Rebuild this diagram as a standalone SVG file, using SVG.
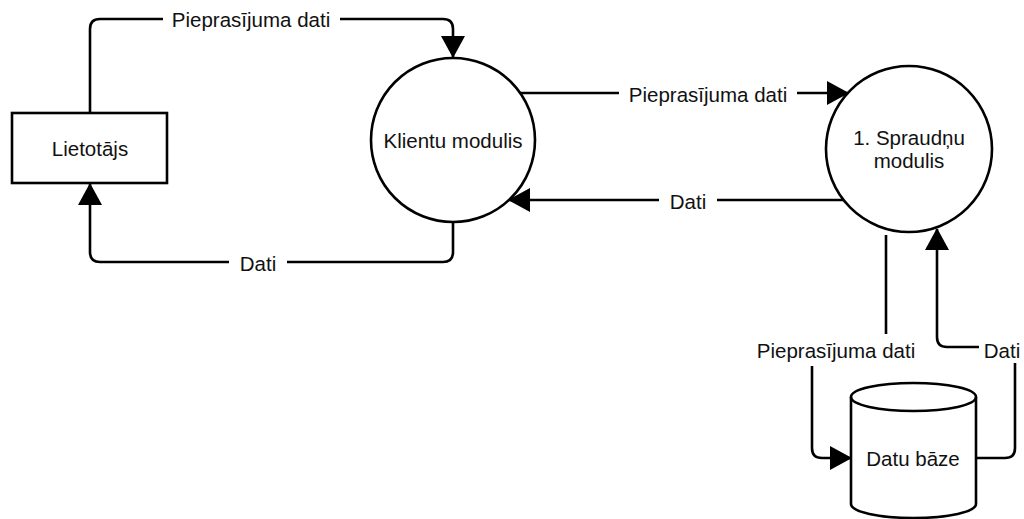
<svg xmlns="http://www.w3.org/2000/svg" width="1024" height="519" viewBox="0 0 1024 519">
<style>
.shape{fill:#fff;stroke:#000;stroke-width:2.6}
.edge{fill:none;stroke:#000;stroke-width:2.6}
.lbl{font-family:"Liberation Sans",Arial,sans-serif;font-size:20.5px;fill:#111;text-anchor:middle;dominant-baseline:central}
.bg{fill:#fff}
</style>
<defs>
<marker id="arr" markerUnits="userSpaceOnUse" markerWidth="24" markerHeight="24" viewBox="0 0 22 24" refX="21" refY="12" orient="auto">
<path d="M0,0 L22,12 L0,24 Z" fill="#000"/>
</marker>
</defs>
<rect width="1024" height="519" fill="#fff"/>
<g id="connectors">
<path class="edge" d="M90,113 V29 Q90,19 100,19 H443 Q453,19 453,29 V57" marker-end="url(#arr)"/>
<path class="edge" d="M453,222 V252 Q453,262 443,262 H100 Q90,262 90,252 V184" marker-end="url(#arr)"/>
<path class="edge" d="M520,93 H848" marker-end="url(#arr)"/>
<path class="edge" d="M843,200 H509" marker-end="url(#arr)"/>
<path class="edge" d="M886,235 V350 H812 V448 Q812,458 822,458 H851" marker-end="url(#arr)"/>
<path class="edge" d="M976,458 H1005 Q1015,458 1015,448 V357 Q1015,347 1005,347 H947 Q937,347 937,337 V229" marker-end="url(#arr)"/>
<rect class="bg" x="163" y="7" width="177" height="26"/>
<text class="lbl" x="251" y="19">Pieprasījuma dati</text>
<rect class="bg" x="229" y="249" width="58" height="26"/>
<text class="lbl" x="258" y="263">Dati</text>
<rect class="bg" x="619" y="80" width="178" height="26"/>
<text class="lbl" x="708" y="94">Pieprasījuma dati</text>
<rect class="bg" x="659" y="187" width="58" height="26"/>
<text class="lbl" x="688" y="201">Dati</text>
<rect class="bg" x="748" y="334" width="177" height="32"/>
<text class="lbl" x="836" y="350">Pieprasījuma dati</text>
<rect class="bg" x="979" y="335" width="45" height="28"/>
<text class="lbl" x="1002" y="350">Dati</text>
</g>
<g id="lietotajs">
<rect class="shape" x="12" y="113" width="155" height="70"/>
<text class="lbl" x="90" y="148">Lietotājs</text>
</g>
<g id="klientu-modulis">
<circle class="shape" cx="453" cy="140" r="82"/>
<text class="lbl" x="453" y="140">Klientu modulis</text>
</g>
<g id="spraudnu-modulis">
<circle class="shape" cx="909" cy="149" r="83"/>
<text class="lbl" x="909" y="137">1. Spraudņu</text>
<text class="lbl" x="909" y="160">modulis</text>
</g>
<g id="datu-baze">
<path class="shape" d="M851,397 A62.5,14 0 0 1 976,397 V504 A62.5,14 0 0 1 851,504 Z"/>
<path class="edge" d="M851,397 A62.5,14 0 0 0 976,397"/>
<text class="lbl" x="913" y="458">Datu bāze</text>
</g>
</svg>
